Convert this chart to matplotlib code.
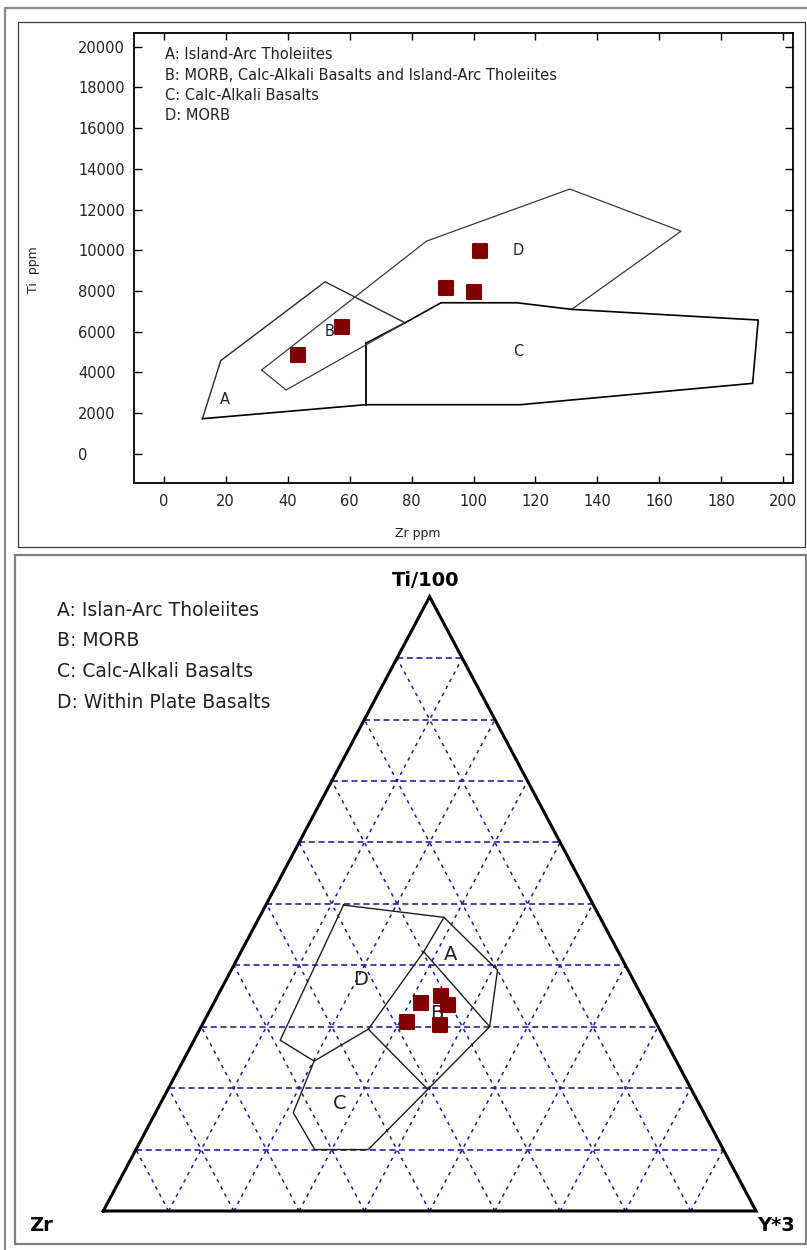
import matplotlib
matplotlib.use("Agg")
import matplotlib.pyplot as plt
from matplotlib.markers import MarkerStyle
from matplotlib.lines import Line2D
from matplotlib.patches import Rectangle

# ---------------- data ----------------
# Ti-Zr diagram: samples (Zr ppm, Ti ppm)
zr_ppm = [43.2, 57.4, 91.2, 100.2, 102.1]
ti_ppm = [4870, 6210, 8150, 7950, 9980]

# Ti-Zr field boundaries (Zr ppm / Ti ppm)
outer_zr = [12.5, 18.4, 52.1, 77.9]
outer_ti = [1730, 4580, 8455, 6440]
field_d_zr = [31.6, 84.8, 131.1, 167.0, 131.7]
field_d_ti = [4120, 10450, 13010, 10940, 7100]
field_c_zr = [65.2, 77.9, 89.5, 114.1, 131.7, 191.9, 190.1, 115.0, 65.2, 12.5]
field_c_ti = [5430, 6440, 7424, 7424, 7100, 6575, 3466, 2416, 2416, 1730]
divide_c_zr = [65.2, 65.2]
divide_c_ti = [5430, 2416]
field_b_zr = [31.6, 39.5, 77.9]
field_b_ti = [4120, 3140, 6440]

field_letters = ["A", "B", "C", "D"]
letter_zr = [19.8, 53.5, 114.6, 114.6]
letter_ti = [2680, 6030, 5020, 10010]

legend_top = [
    "A: Island-Arc Tholeiites",
    "B: MORB, Calc-Alkali Basalts and Island-Arc Tholeiites",
    "C: Calc-Alkali Basalts",
    "D: MORB",
]
x_ticks = list(range(0, 201, 20))
y_ticks = list(range(0, 20001, 2000))

# Ti/100 - Zr - Y*3 ternary: samples (fractions)
tern_ti = [0.338, 0.350, 0.335, 0.307, 0.303]
tern_zr = [0.345, 0.307, 0.305, 0.381, 0.333]
tern_y = [0.317, 0.343, 0.360, 0.312, 0.364]

# ternary field vertices (Ti/100, Zr, Y*3 in %)
tern_outer = [(49.8, 38.3, 11.9), (47.8, 23.9, 28.3), (39.2, 20.0, 40.8),
              (30.0, 25.8, 44.2), (10.0, 54.4, 35.6), (10.0, 62.6, 27.4),
              (16.0, 62.9, 21.1), (24.4, 55.5, 20.1), (27.8, 59.0, 13.2),
              (49.8, 38.3, 11.9)]
tern_dc = [(24.4, 55.5, 20.1), (29.6, 44.6, 25.8)]
tern_db = [(29.6, 44.6, 25.8), (42.2, 29.8, 28.0), (47.8, 23.9, 28.3)]
tern_ab = [(42.2, 29.8, 28.0), (30.0, 25.8, 44.2)]
tern_bc = [(29.6, 44.6, 25.8), (19.8, 40.4, 39.8)]

tern_letters = ["A", "B", "C", "D"]
tern_letter_pos = [(41.7, 25.9, 32.4), (32.1, 32.8, 35.1),
                   (17.5, 55.0, 27.5), (37.7, 41.7, 20.6)]

legend_bottom = [
    "A: Islan-Arc Tholeiites",
    "B: MORB",
    "C: Calc-Alkali Basalts",
    "D: Within Plate Basalts",
]

# ---------------- figure ----------------
W, H = 807, 1250
fig = plt.figure(figsize=(W / 100, H / 100), dpi=100)
fig.patch.set_facecolor("white")


def fx(px):
    return px / W


def fy(py):
    return 1 - py / H


# window-style frames
fig.add_artist(Line2D([fx(5), fx(5), fx(807)], [fy(1250), fy(8), fy(8)],
                      transform=fig.transFigure, color="#8a8a8a", lw=1.6))
fig.add_artist(Rectangle((fx(18), fy(546.5)), fx(805) - fx(18), fy(22) - fy(546.5),
                         transform=fig.transFigure, fill=False, ec="#3a3a3a", lw=0.9))
fig.add_artist(Rectangle((fx(15), fy(1244)), fx(806) - fx(15), fy(555) - fy(1244),
                         transform=fig.transFigure, fill=False, ec="#808080", lw=1.6))

square = MarkerStyle("s", joinstyle="round")
maroon = "#800000"
txt_col = "#222222"

# ---------------- Ti vs Zr ----------------
ax = fig.add_axes([fx(133.8), fy(482.9), (792.6 - 133.8) / W, (482.9 - 33.2) / H])
ax.set_xlim(-9.65, 203.0)
ax.set_ylim(-1424, 20665)
ax.set_xticks(x_ticks)
ax.set_yticks(y_ticks)
ax.tick_params(axis="x", direction="in", length=5, width=1.0, top=True, bottom=True,
               pad=8, labelsize=10.5, labelcolor=txt_col)
ax.tick_params(axis="y", direction="in", length=5.5, width=1.0, left=True, right=True,
               pad=40, labelsize=10.5, labelcolor=txt_col)
plt.setp(ax.get_yticklabels(), ha="left")
for sp in ax.spines.values():
    sp.set_linewidth(1.3)
    sp.set_color("black")

ax.plot(outer_zr, outer_ti, color="#2a2a2a", lw=1.0)
ax.plot(field_d_zr, field_d_ti, color="#3a3a3a", lw=0.9)
ax.plot(field_c_zr, field_c_ti, color="black", lw=1.2)
ax.plot(divide_c_zr, divide_c_ti, color="black", lw=1.3)
ax.plot(field_b_zr, field_b_ti, color="#3a3a3a", lw=0.9)

for lab, zx, ty in zip(field_letters, letter_zr, letter_ti):
    ax.text(zx, ty, lab, fontsize=10.5, color=txt_col, ha="center", va="center", zorder=2)

ax.plot(zr_ppm, ti_ppm, linestyle="none", marker=square, markersize=10,
        markerfacecolor=maroon, markeredgecolor=maroon, markeredgewidth=1.5, zorder=4)

legend_y = [0.9531, 0.9070, 0.8625, 0.8165]
for s, yy in zip(legend_top, legend_y):
    ax.text(0.0469, yy, s, transform=ax.transAxes, fontsize=10.5, color=txt_col,
            ha="left", va="center")

fig.text(fx(418), fy(534), "Zr ppm", fontsize=9, color=txt_col, ha="center", va="center")
fig.text(fx(33.5), fy(270), "Ti  ppm", fontsize=9, color=txt_col, ha="center",
         va="center", rotation=90)

# ---------------- ternary ----------------
tax = fig.add_axes([fx(103.3), fy(1211), (756 - 103.3) / W, (1211 - 596.7) / H])
tax.set_xlim(0, 1)
tax.set_ylim(0, 1)
tax.axis("off")


def tern_xy(ti, zr, y):
    s = ti + zr + y
    t = ti / s
    return y / s + t / 2, t


grid_col = "#1c1c96"
for k in range(1, 10):
    f = k / 10
    # constant Ti/100
    tax.plot([f / 2, 1 - f / 2], [f, f], color=grid_col, lw=1.15,
             linestyle=(0, (3.8, 2.3)), zorder=1)
    # constant Y*3
    tax.plot([f, f + (1 - f) / 2], [0, 1 - f], color=grid_col, lw=1.1,
             linestyle=(0, (2.3, 3.0)), zorder=1)
    # constant Zr
    tax.plot([1 - f, (1 - f) / 2], [0, 1 - f], color=grid_col, lw=1.1,
             linestyle=(0, (2.3, 3.0)), zorder=1)

tax.plot([0, 1, 0.5, 0], [0, 0, 1, 0], color="black", lw=2.2, clip_on=False,
         solid_joinstyle="miter", zorder=3)

for seg in (tern_outer, tern_dc, tern_db, tern_ab, tern_bc):
    xs, ys = zip(*[tern_xy(*p) for p in seg])
    tax.plot(xs, ys, color="#1e1e1e", lw=1.0, zorder=2)

for lab, p in zip(tern_letters, tern_letter_pos):
    lx, ly = tern_xy(*p)
    tax.text(lx, ly, lab, fontsize=14, color=txt_col, ha="center", va="center", zorder=2)

px_, py_ = zip(*[tern_xy(a, b, c) for a, b, c in zip(tern_ti, tern_zr, tern_y)])
tax.plot(px_, py_, linestyle="none", marker=square, markersize=10,
         markerfacecolor=maroon, markeredgecolor=maroon, markeredgewidth=1.5, zorder=4)

tax.text(0.494, 1.027, "Ti/100", fontsize=14, fontweight="bold", ha="center",
         va="center", clip_on=False)
tax.text(-0.0955, -0.0244, "Zr", fontsize=14, fontweight="bold", ha="center",
         va="center", clip_on=False)
tax.text(1.030, -0.0228, "Y*3", fontsize=14, fontweight="bold", ha="center",
         va="center", clip_on=False)

for s, yy in zip(legend_bottom, [610, 641, 671.7, 702.7]):
    fig.text(fx(56.7), fy(yy), s, fontsize=13.5, color=txt_col, ha="left", va="center")

fig.savefig("out.png", dpi=100, facecolor="white")
